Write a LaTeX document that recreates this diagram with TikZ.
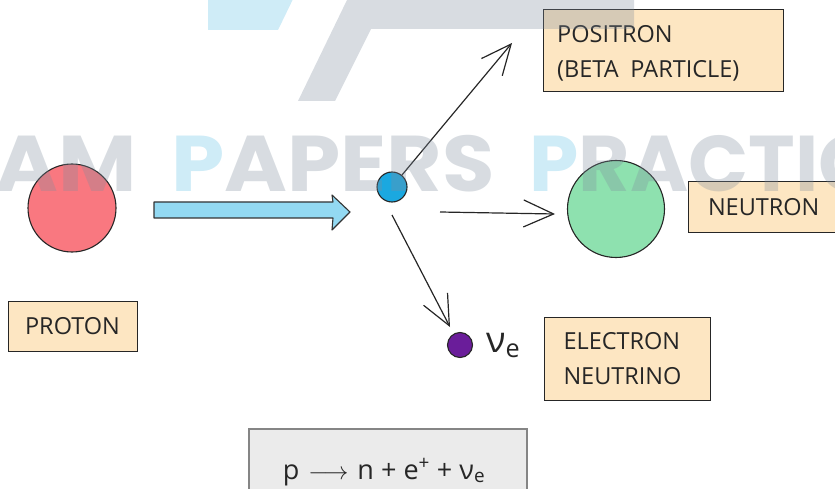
\documentclass[tikz,border=0pt]{standalone}
\usepackage{fontspec}
\setmainfont{Open Sans}
\newfontfamily\wmfont{Poppins}[FakeStretch=1.08]
\newfontfamily\wmfontb{Poppins}
\usetikzlibrary{arrows.meta}
\definecolor{peach}{HTML}{FDE6C2}
\definecolor{protonred}{HTML}{F97880}
\definecolor{arrowblue}{HTML}{93D9F2}
\definecolor{posblue}{HTML}{1BA8E0}
\definecolor{neutgreen}{HTML}{8EE1AF}
\definecolor{nupurple}{HTML}{6A1D9A}
\definecolor{eqgray}{HTML}{EBEBEB}
\definecolor{eqborder}{HTML}{858585}
\definecolor{wmgray}{HTML}{7F8C9C}
\definecolor{wmblue}{HTML}{5FBFE3}
\begin{document}
\begin{tikzpicture}[x=1pt,y=-1pt,
  lbl/.style={draw=black!85, line width=1pt, fill=peach, rectangle, font=\fontsize{23.5}{35}\selectfont, text=black!85},
  lbltext/.style={font=\fontsize{23.5}{35}\selectfont, text=black!85, align=left, inner sep=0pt},
  particle/.style={circle, draw=black!85, line width=1.1pt, inner sep=0pt},
  conn/.style={draw=black!85, line width=1.2pt, -{Straight Barb[length=30pt,width=27pt]}},
  wm/.style={font=\wmfont\bfseries\fontsize{79}{79}\selectfont, text=wmgray, text opacity=0.3, inner sep=0pt},
  wmb/.style={font=\wmfontb\bfseries\fontsize{79}{79}\selectfont, text=wmgray, text opacity=0.3, inner sep=0pt},
  wmshape/.style={opacity=0.3}
]
\useasboundingbox (0,0) rectangle (835,489);
% particles
\node[particle, fill=protonred, minimum size=88pt] (proton) at (72,208) {};
\draw[fill=arrowblue, draw=black!80, line width=1.1pt, line join=round]
  (154,202) -- (333,202) -- (332,195) -- (350,212) -- (332,230) -- (333,218) -- (154,218) -- cycle;
\node[particle, fill=posblue, minimum size=30pt] (pos) at (392,187) {};
\node[particle, fill=neutgreen, minimum size=97pt] (neut) at (616,209) {};
\node[particle, fill=nupurple, minimum size=25pt] (nu) at (460,345) {};
\node[anchor=base west, font=\fontsize{36}{36}\selectfont, inner sep=0pt, text=black!85] (nulabel) at (486,352) {ν\textsubscript{e}};
% labels
\node[lbl, minimum width=240pt, minimum height=82pt] (posbox) at (663,51) {};
\node[lbltext, anchor=base west] (poslbl) at (557,78) {POSITRON\\(BETA\enspace PARTICLE)};
\node[lbl, minimum height=50pt, text width=117pt, inner xsep=20pt, align=left] (neutlbl) at (766.5,207) {NEUTRON};
\node[lbl, minimum width=129pt, minimum height=50pt, align=center] (protlbl) at (72.5,326) {PROTON};
\node[lbl, minimum height=83pt, text width=127pt, inner xsep=19.5pt, align=left] (nulbl) at (627,358.5) {ELECTRON\\NEUTRINO};
% equation
\node[draw=eqborder, fill=eqgray, line width=1.2pt, minimum width=278pt, minimum height=80pt] (eqbox) at (388,469) {};
\node[font=\fontsize{27}{27}\selectfont, anchor=base, text=black!85] (eq) at (384,479) {p\,\,$\longrightarrow$\,\,n + e\textsuperscript{+} + ν\textsubscript{e}};
% connectors
\coordinate (ptip) at (512,43);
\draw[conn] (pos) -- (ptip);
\coordinate (ns) at (440,212);
\coordinate (ne) at (555,214);
\draw[conn] (ns) -- (ne);
\coordinate (vs) at (392,215);
\coordinate (ve) at (450,327);
\draw[conn] (vs) -- (ve);
% watermark
\fill[wmgray, wmshape] (347,0) -- (634,0) -- (634,29) -- (371,29) -- (335,101) -- (298,101) -- cycle;
\fill[wmblue, wmshape] (208,-5) -- (295,-5) -- (278,30) -- (208,30) -- cycle;
\node[wm, anchor=base east] (wm1) at (137,192) {EXAM};
\node[wm, anchor=base west] (wm2) at (171,192) {\textcolor{wmblue}{P}APERS};
\node[wmb, anchor=base west] (wm3) at (529,192) {\textcolor{wmblue}{P}RACTICE};
\end{tikzpicture}
\end{document}
